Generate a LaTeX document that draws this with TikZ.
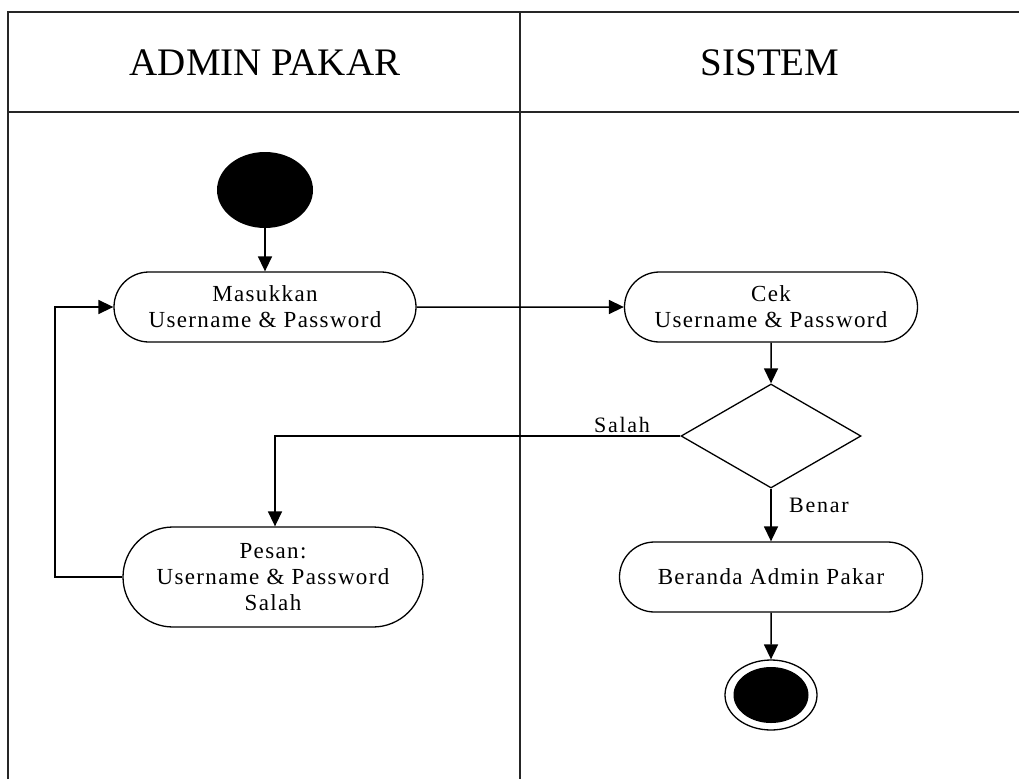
\documentclass[tikz,border=0pt]{standalone}
\usepackage{fontspec}
\setmainfont{Liberation Serif}
\usetikzlibrary{shapes.geometric,shapes.misc,arrows.meta}

\tikzset{
  lane/.style={line width=1.8pt, draw=black!85},
  activity/.style={draw, line width=1.3pt, rounded rectangle, inner sep=0pt,
    align=center, font=\fontsize{23}{26}\selectfont\addfontfeatures{LetterSpace=6}},
  decision/.style={draw, line width=1.3pt, diamond, inner sep=0pt,
    minimum width=180pt, minimum height=104pt},
  flow/.style={line width=1.5pt, -{Triangle[length=15pt,width=14pt]}},
  guard/.style={font=\fontsize{22}{24}\selectfont\addfontfeatures{LetterSpace=8}, inner sep=0pt},
  header/.style={font=\fontsize{39}{42}\selectfont, inner sep=0pt}
}

\begin{document}
\begin{tikzpicture}[x=1pt, y=-1pt]
  \useasboundingbox (0,0) rectangle (1019,779);

  % swimlane frame
  \draw[lane] (8,779) -- (8,12) -- (1019,12);
  \draw[lane] (8,112) -- (1019,112);
  \draw[lane] (520,12) -- (520,779);

  % lane titles
  \node[header] (hAdmin) at (265,63) {ADMIN PAKAR};
  \node[header] (hSistem) at (770,63) {SISTEM};

  % initial state
  \node[ellipse, fill=black, minimum width=96pt, minimum height=76pt, inner sep=0pt] (start) at (265,190) {};

  % activities
  \node[activity, minimum width=302pt, minimum height=70pt] (masuk) at (265,307)
    {Masukkan\\Username \& Password};
  \node[activity, minimum width=293pt, minimum height=70pt] (cek) at (771,307)
    {Cek\\Username \& Password};
  \node[decision] (dia) at (771,436) {};
  \node[activity, minimum width=300pt, minimum height=100pt] (pesan) at (273,577)
    {Pesan:\\Username \& Password\\Salah};
  \node[activity, minimum width=303pt, minimum height=70pt] (beranda) at (771,577)
    {Beranda Admin Pakar};

  % final state
  \node[ellipse, draw, line width=1.3pt, minimum width=92pt, minimum height=70pt, inner sep=0pt] (stop) at (771,695) {};
  \node[ellipse, fill=black, minimum width=75pt, minimum height=56pt, inner sep=0pt] (stopIn) at (771,695) {};

  % transitions
  \coordinate (loopx) at (55,0);
  \coordinate (salahx) at (275,0);
  \draw[flow] (start) -- (masuk);
  \draw[flow] (masuk) -- (cek);
  \draw[flow] (cek) -- (dia);
  \draw[flow] (dia.west) -- (dia.west -| salahx) -- (pesan.north -| salahx);
  \draw[flow] (dia) -- (beranda);
  \draw[flow] (beranda) -- (stop);
  \draw[flow] (pesan.west) -- (pesan.west -| loopx) |- (masuk.west);

  % guards
  \node[guard] (gSalah) at (622,425) {Salah};
  \node[guard] (gBenar) at (819,505) {Benar};
\end{tikzpicture}
\end{document}
